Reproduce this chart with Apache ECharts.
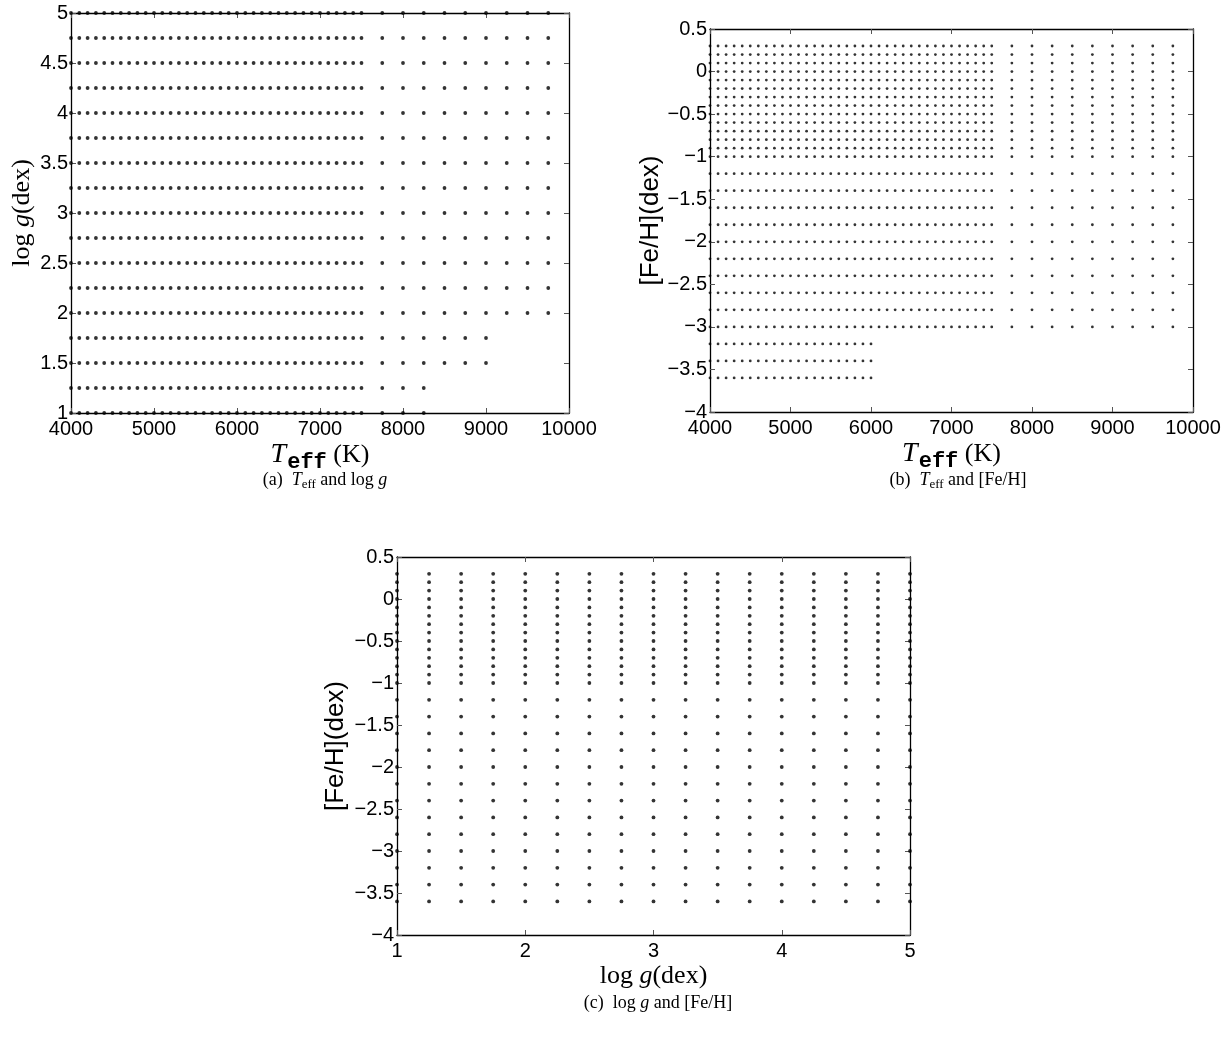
<!DOCTYPE html>
<html><head><meta charset="utf-8">
<script src="https://cdn.jsdelivr.net/npm/echarts@6/dist/echarts.min.js"></script>
<style>html,body{margin:0;padding:0;background:#fff}#c{width:1230px;height:1051px}</style>
</head><body><div id="c"></div>
<script>
// ---- data ----
const teffDense = [4000,4100,4200,4300,4400,4500,4600,4700,4800,4900,5000,5100,5200,5300,5400,5500,5600,5700,5800,5900,6000,6100,6200,6300,6400,6500,6600,6700,6800,6900,7000,7100,7200,7300,7400,7500];
const teffSparse = [7750,8000,8250,8500,8750,9000,9250,9500,9750];
const loggGrid = [1,1.25,1.5,1.75,2,2.25,2.5,2.75,3,3.25,3.5,3.75,4,4.25,4.5,4.75,5];
const loggMaxTeff = [8250,8250,9000,9000,9750,9750,9750,9750,9750,9750,9750,9750,9750,9750,9750,9750,9750];
const fehGrid = [0.3,0.2,0.1,0,-0.1,-0.2,-0.3,-0.4,-0.5,-0.6,-0.7,-0.8,-0.9,-1.0,-1.2,-1.4,-1.6,-1.8,-2.0,-2.2,-2.4,-2.6,-2.8,-3.0,-3.2,-3.4,-3.6];
const fehMaxTeff = [9750,9750,9750,9750,9750,9750,9750,9750,9750,9750,9750,9750,9750,9750,9750,9750,9750,9750,9750,9750,9750,9750,9750,9750,6000,6000,6000];
const teffAxis = {min:4000,max:10000,interval:1000};
const loggAxisA = {min:1,max:5,interval:0.5};
const fehAxis = {min:-4,max:0.5,interval:0.5};
const loggAxisC = {min:1,max:5,interval:1};

// ---- build point tables ----
const teffAll = teffDense.concat(teffSparse);
const ptsA = [];
loggGrid.forEach((g,i)=>teffAll.forEach(t=>{ if(t<=loggMaxTeff[i]) ptsA.push([t,g]); }));
const ptsB = [];
fehGrid.forEach((f,i)=>teffAll.forEach(t=>{ if(t<=fehMaxTeff[i]) ptsB.push([t,f]); }));
const ptsC = [];
loggGrid.forEach(g=>fehGrid.forEach(f=>ptsC.push([g,f])));

// ---- styling ----
const SANS = 'Liberation Sans, Arial, sans-serif';
const SERIF = 'Liberation Serif, Times New Roman, serif';
const MONO = 'Liberation Mono, DejaVu Sans Mono, monospace';
const fmt = v => String(Math.round(v*100)/100).replace('-', '\u2212');
const labelStyle = {fontFamily:SANS,fontSize:20,color:'#000',formatter:fmt};
function ax(type, gi, pos, rng, opts){
  const main = (pos==='bottom'||pos==='left');
  return Object.assign({
    type:'value', gridIndex:gi, position:pos, min:rng.min, max:rng.max, interval:rng.interval,
    splitLine:{show:false},
    axisLine:{show:true,onZero:false,lineStyle:{color:'#000',width:1.3}},
    axisTick:{show:true,inside:true,length:5,lineStyle:{color:'#555',width:1}},
    axisLabel: main ? Object.assign({margin: type==='x'?6:3, showMinLabel:true, showMaxLabel:true}, labelStyle) : {show:false},
  }, opts||{});
}
const richT = {
  t:{fontFamily:SERIF,fontStyle:'italic',fontSize:28,color:'#000'},
  s:{fontFamily:MONO,fontWeight:'bold',fontSize:22,color:'#000',padding:[14,0,0,1]},
  r:{fontFamily:SERIF,fontSize:26,color:'#000'},
  i:{fontFamily:SERIF,fontStyle:'italic',fontSize:26,color:'#000'}
};
const capRich = {
  r:{fontFamily:SERIF,fontWeight:'normal',fontSize:18,color:'#000'},
  i:{fontFamily:SERIF,fontWeight:'normal',fontStyle:'italic',fontSize:18,color:'#000'},
  s:{fontFamily:SERIF,fontWeight:'normal',fontSize:13,color:'#000',padding:[8,0,0,0]}
};
const sansName = {fontFamily:SANS,fontSize:26,color:'#000'};

const option = {
  backgroundColor:'#fff',
  animation:false,
  title:[
    {text:'{r|(a)  }{i|T}{s|eff}{r| and log }{i|g}', left:320, top:465, textAlign:'center', textStyle:{fontWeight:'normal',rich:capRich}},
    {text:'{r|(b)  }{i|T}{s|eff}{r| and [Fe/H]}', left:953, top:465, textAlign:'center', textStyle:{fontWeight:'normal',rich:capRich}},
    {text:'{r|(c)  log }{i|g}{r| and [Fe/H]}', left:653, top:989, textAlign:'center', textStyle:{fontWeight:'normal',rich:capRich}}
  ],
  grid:[
    {left:71, top:13, width:498, height:400},
    {left:710, top:29, width:483, height:383},
    {left:397, top:557, width:513, height:378}
  ],
  xAxis:[
    ax('x',0,'bottom',teffAxis,{name:'{t|T}{s|eff}{r| (K)}',nameLocation:'middle',nameGap:24,nameTextStyle:{rich:richT}}),
    ax('x',0,'top',teffAxis),
    ax('x',1,'bottom',teffAxis,{name:'{t|T}{s|eff}{r| (K)}',nameLocation:'middle',nameGap:24,nameTextStyle:{rich:richT}}),
    ax('x',1,'top',teffAxis),
    ax('x',2,'bottom',loggAxisC,{name:'{r|log }{i|g}{r|(dex)}',nameLocation:'middle',nameGap:28,nameTextStyle:{rich:richT}}),
    ax('x',2,'top',loggAxisC)
  ],
  yAxis:[
    ax('y',0,'left',loggAxisA,{name:'{r|log }{i|g}{r|(dex)}',nameLocation:'middle',nameGap:36,nameRotate:90,nameTextStyle:{rich:richT}}),
    ax('y',0,'right',loggAxisA),
    ax('y',1,'left',fehAxis,{name:'[Fe/H](dex)',nameLocation:'middle',nameGap:46,nameRotate:90,nameTextStyle:sansName}),
    ax('y',1,'right',fehAxis),
    ax('y',2,'left',fehAxis,{name:'[Fe/H](dex)',nameLocation:'middle',nameGap:48,nameRotate:90,nameTextStyle:sansName}),
    ax('y',2,'right',fehAxis)
  ],
  series:[
    {type:'scatter',xAxisIndex:0,yAxisIndex:0,data:ptsA,symbol:'circle',symbolSize:3.8,itemStyle:{color:'#000'},clip:false,silent:true},
    {type:'scatter',xAxisIndex:2,yAxisIndex:2,data:ptsB,symbol:'circle',symbolSize:2.8,itemStyle:{color:'#000'},clip:false,silent:true},
    {type:'scatter',xAxisIndex:4,yAxisIndex:4,data:ptsC,symbol:'circle',symbolSize:3.8,itemStyle:{color:'#000'},clip:false,silent:true}
  ]
};
const chart = echarts.init(document.getElementById('c'), null, {renderer:'canvas'});
chart.setOption(option);
</script>
</body></html>
